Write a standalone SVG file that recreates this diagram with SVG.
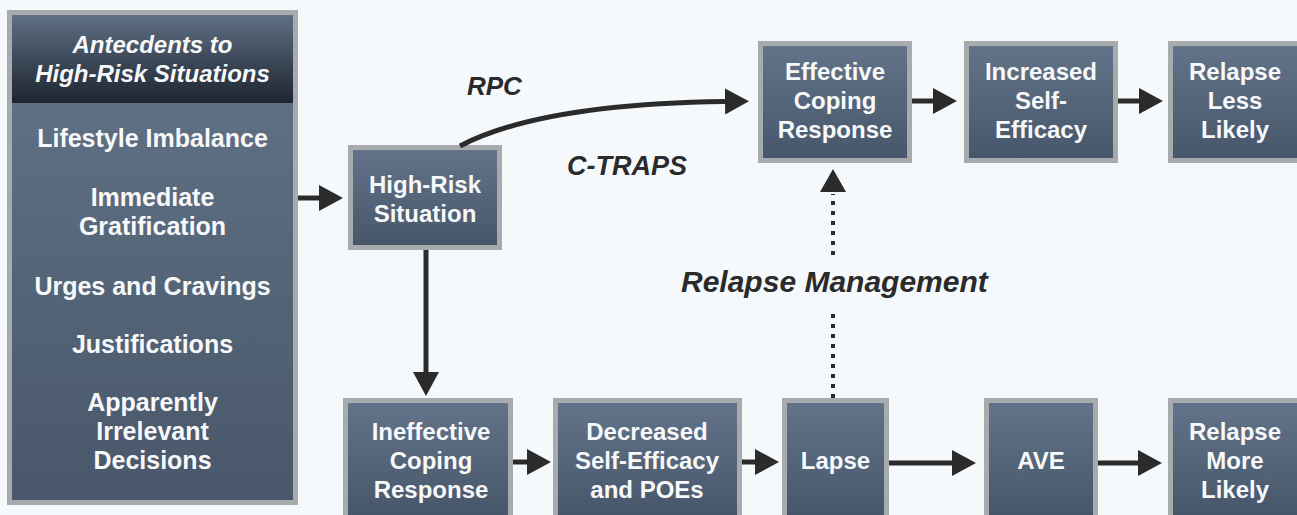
<svg xmlns="http://www.w3.org/2000/svg" width="1297" height="515" viewBox="0 0 1297 515">
  <style>
    .box { fill: url(#boxGrad); stroke: #a8abae; stroke-width: 5; }
    .t { font-family: "Liberation Sans", Arial, sans-serif; font-weight: bold; font-size: 24px; fill: #f7f8f9; text-anchor: middle; }
    .lst { font-size: 25px; }
    .hdr { font-style: italic; font-size: 24px; }
    .lbl { font-family: "Liberation Sans", Arial, sans-serif; font-weight: bold; font-style: italic; fill: #2b2b2b; }
    .arr { stroke: #2b2b2b; stroke-width: 5; fill: none; marker-end: url(#ah); }
    .dot { stroke: #2b2b2b; stroke-width: 4; fill: none; stroke-dasharray: 4 6; }
  </style>
  <defs>
    <linearGradient id="boxGrad" x1="0" y1="0" x2="0" y2="1">
      <stop offset="0" stop-color="#63748a"/>
      <stop offset="1" stop-color="#46566a"/>
    </linearGradient>
    <linearGradient id="hdrGrad" x1="0" y1="0" x2="0" y2="1">
      <stop offset="0" stop-color="#5f6f84"/>
      <stop offset="1" stop-color="#1d252f"/>
    </linearGradient>
    <linearGradient id="bodyGrad" x1="0" y1="0" x2="0" y2="1">
      <stop offset="0" stop-color="#5f7084"/>
      <stop offset="1" stop-color="#485769"/>
    </linearGradient>
    <marker id="ah" markerUnits="userSpaceOnUse" markerWidth="26" markerHeight="28" refX="0" refY="13" orient="auto">
      <path d="M0,0 L24,13 L0,26 Z" fill="#2b2b2b"/>
    </marker>
  </defs>

  <rect x="0" y="0" width="1297" height="515" fill="#f5f9fb"/>

  <g id="antecedents">
    <rect x="7" y="10" width="291" height="495" fill="#a8abae"/>
    <rect x="12" y="103" width="281" height="397" fill="url(#bodyGrad)"/>
    <rect x="12" y="15" width="281" height="88" fill="url(#hdrGrad)"/>
    <text class="t hdr" x="152.5" y="53">Antecdents to</text>
    <text class="t hdr" x="152.5" y="82">High-Risk Situations</text>
    <text class="t lst" x="152.5" y="147">Lifestyle Imbalance</text>
    <text class="t lst" x="152.5" y="206">Immediate</text>
    <text class="t lst" x="152.5" y="235">Gratification</text>
    <text class="t lst" x="152.5" y="295">Urges and Cravings</text>
    <text class="t lst" x="152.5" y="353">Justifications</text>
    <text class="t lst" x="152.5" y="411">Apparently</text>
    <text class="t lst" x="152.5" y="440">Irrelevant</text>
    <text class="t lst" x="152.5" y="469">Decisions</text>
  </g>

  <g id="high-risk">
    <rect class="box" x="350.5" y="147.5" width="149" height="100"/>
    <text class="t" x="425" y="193">High-Risk</text>
    <text class="t" x="425" y="222">Situation</text>
  </g>

  <g id="effective">
    <rect class="box" x="760.5" y="43.5" width="149" height="117"/>
    <text class="t" x="835" y="80">Effective</text>
    <text class="t" x="835" y="109">Coping</text>
    <text class="t" x="835" y="138">Response</text>
  </g>

  <g id="increased">
    <rect class="box" x="966.5" y="43.5" width="149" height="117"/>
    <text class="t" x="1041" y="80">Increased</text>
    <text class="t" x="1041" y="109">Self-</text>
    <text class="t" x="1041" y="138">Efficacy</text>
  </g>

  <g id="relapse-less">
    <rect class="box" x="1170.5" y="43.5" width="129" height="117"/>
    <text class="t" x="1235" y="80">Relapse</text>
    <text class="t" x="1235" y="109">Less</text>
    <text class="t" x="1235" y="138">Likely</text>
  </g>

  <g id="ineffective">
    <rect class="box" x="345.5" y="400.5" width="165" height="117"/>
    <text class="t" x="431" y="440">Ineffective</text>
    <text class="t" x="431" y="469">Coping</text>
    <text class="t" x="431" y="498">Response</text>
  </g>

  <g id="decreased">
    <rect class="box" x="555.5" y="400.5" width="184" height="117"/>
    <text class="t" x="647" y="440">Decreased</text>
    <text class="t" x="647" y="469">Self-Efficacy</text>
    <text class="t" x="647" y="498">and POEs</text>
  </g>

  <g id="lapse">
    <rect class="box" x="784.5" y="400.5" width="102" height="117"/>
    <text class="t" x="835.5" y="469">Lapse</text>
  </g>

  <g id="ave">
    <rect class="box" x="986.5" y="400.5" width="109" height="117"/>
    <text class="t" x="1041" y="469">AVE</text>
  </g>

  <g id="relapse-more">
    <rect class="box" x="1170.5" y="400.5" width="129" height="117"/>
    <text class="t" x="1235" y="440">Relapse</text>
    <text class="t" x="1235" y="469">More</text>
    <text class="t" x="1235" y="498">Likely</text>
  </g>

  <g id="connectors">
    <line class="arr" x1="298" y1="198" x2="319" y2="198"/>
    <path class="arr" d="M460,146 Q540,104 725,101.5"/>
    <line class="arr" x1="912" y1="101" x2="933" y2="101"/>
    <line class="arr" x1="1118" y1="101" x2="1139" y2="101"/>
    <line class="arr" x1="426" y1="250" x2="426" y2="372"/>
    <line class="arr" x1="513" y1="462" x2="527" y2="462"/>
    <line class="arr" x1="742" y1="462" x2="755" y2="462"/>
    <line class="arr" x1="889" y1="463" x2="952" y2="463"/>
    <line class="arr" x1="1098" y1="463" x2="1138" y2="463"/>
    <path class="dot" d="M833,398 L833,310"/>
    <path class="dot" d="M833,255 L833,194"/>
    <path d="M820,192 L833,169 L846,192 Z" fill="#2b2b2b"/>
  </g>

  <g id="labels">
    <text class="lbl" x="467" y="95" font-size="26">RPC</text>
    <text class="lbl" x="567" y="175" font-size="27">C-TRAPS</text>
    <text class="lbl" x="681" y="292" font-size="30">Relapse Management</text>
  </g>
</svg>
